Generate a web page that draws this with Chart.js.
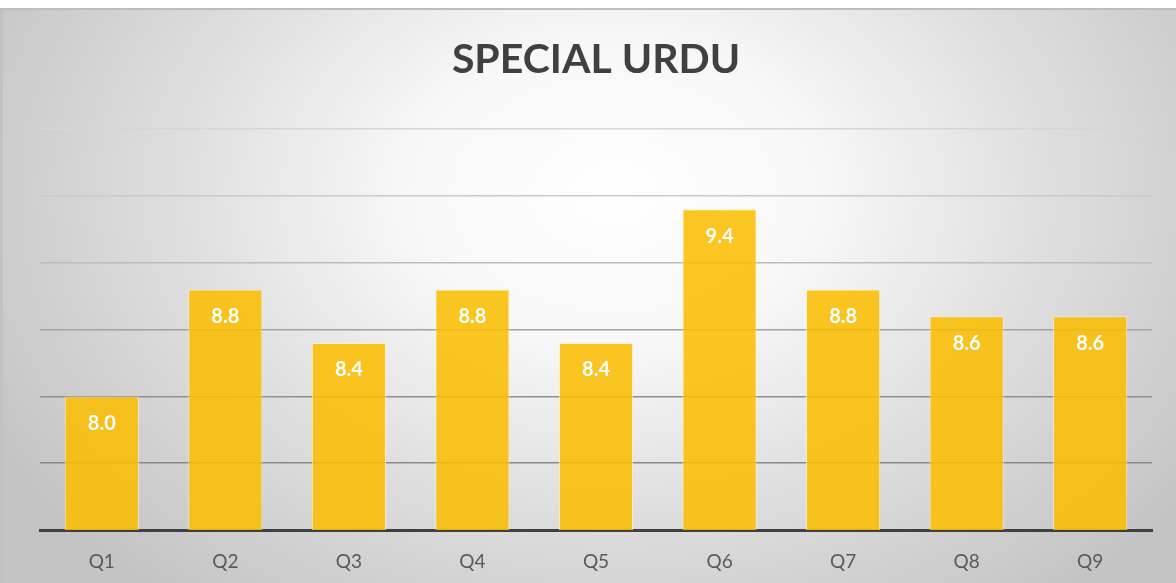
<!DOCTYPE html>
<html>
<head>
<meta charset="utf-8">
<script src="https://cdn.jsdelivr.net/npm/chart.js@4"></script>
<style>
  html, body { margin: 0; padding: 0; background: #fff; }
  #wrap {
    position: absolute; left: 0; top: 8px; width: 1173px; height: 573px;
    border-top: 2px solid #bdbdbd; border-left: 3px solid #c2c2c2;
    background: radial-gradient(ellipse 60% 90% at 52% 32%, #ffffff 0%, #f7f7f7 30%, #dcdcdc 65%, #c4c4c4 100%);
  }
  #c { position: absolute; left: 0; top: 0; }
</style>
</head>
<body>
<div id="wrap"></div>
<canvas id="c" width="1176" height="583"></canvas>
<script>
  // 資料
  const categories = ['Q1', 'Q2', 'Q3', 'Q4', 'Q5', 'Q6', 'Q7', 'Q8', 'Q9'];
  const scores     = [8.0, 8.8, 8.4, 8.8, 8.4, 9.4, 8.8, 8.6, 8.6];
  const chartTitle = 'SPECIAL URDU';

  // 格線由上往下漸深
  const gridColors = ['rgba(0,0,0,0)', '#8a8a8a', '#909090', '#a2a2a2', '#bcbcbc', '#cacaca', '#d6d6d6'];

  const barLabels = {
    id: 'barLabels',
    afterDatasetsDraw(chart) {
      const ctx = chart.ctx;
      const meta = chart.getDatasetMeta(0);
      ctx.save();
      ctx.font = 'bold 20px Lato';
      ctx.fillStyle = '#ffffff';
      ctx.textAlign = 'center';
      ctx.textBaseline = 'middle';
      meta.data.forEach((bar, i) => {
        ctx.fillText(scores[i].toFixed(1), bar.x, bar.y + 27);
      });
      ctx.restore();
    }
  };

  new Chart(document.getElementById('c'), {
    type: 'bar',
    data: {
      labels: categories,
      datasets: [{
        data: scores,
        backgroundColor: 'rgba(250,190,0,0.87)',
        borderColor: 'rgba(255,240,200,0.8)',
        borderWidth: 1,
        categoryPercentage: 1,
        barPercentage: 0.6
      }]
    },
    options: {
      responsive: false,
      animation: false,
      layout: { padding: { left: 40, right: 24, top: 0, bottom: 0 } },
      plugins: {
        legend: { display: false },
        tooltip: { enabled: false },
        title: {
          display: true,
          text: chartTitle,
          color: '#404040',
          font: { family: 'Lato', size: 41, weight: 'bold' },
          padding: { top: 35, bottom: 45 }
        }
      },
      scales: {
        x: {
          grid: { display: false, drawTicks: false },
          border: { display: true, color: '#404040', width: 3 },
          ticks: { color: '#595959', font: { family: 'Lato', size: 19 }, padding: 20 },
          afterFit: s => { s.height = 53; }
        },
        y: {
          min: 7, max: 10,
          ticks: { display: false, stepSize: 0.5 },
          grid: { drawTicks: false, lineWidth: 1.5, color: c => gridColors[c.index] || '#ccc' },
          border: { display: false }
        }
      }
    },
    plugins: [barLabels]
  });
</script>
</body>
</html>
